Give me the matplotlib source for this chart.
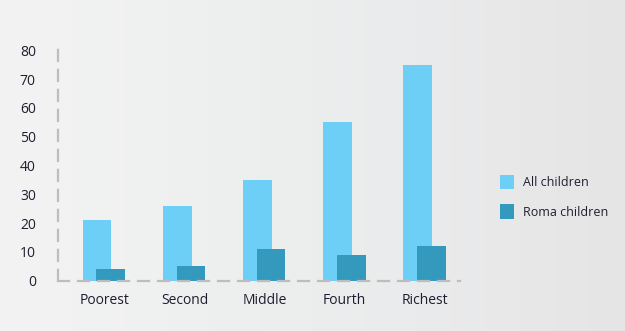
import matplotlib.pyplot as plt
import numpy as np

# Wealth quintiles and share of children (%) in each group
quintiles = ["Poorest", "Second", "Middle", "Fourth", "Richest"]
all_children = [21, 26, 35, 55, 75]
roma_children = [4, 5, 11, 9, 12]
y_ticks = [0, 10, 20, 30, 40, 50, 60, 70, 80]

CLR_ALL = "#6dcff6"
CLR_ROMA = "#3399bd"
CLR_AXIS = "#bdbdbd"
CLR_TEXT = "#1e1e30"

plt.rcParams["font.family"] = ["Open Sans", "DejaVu Sans"]

fig = plt.figure(figsize=(6.25, 3.31), dpi=100)

# soft grey gradient behind everything
bg = fig.add_axes([0, 0, 1, 1], zorder=-10)
grad = np.linspace(0, 1, 256)[None, :]
bg.imshow(grad, aspect="auto", cmap=plt.matplotlib.colors.LinearSegmentedColormap.from_list(
    "bg", ["#f3f3f3", "#eef0ef", "#eaebec", "#e6e5e5"]), extent=[0, 1, 0, 1])
bg.set_axis_off()

ax = fig.add_axes([0.0928, 0.152, 0.6432, 0.722])
ax.patch.set_alpha(0)

x = np.arange(len(quintiles))
ax.bar(x - 0.09, all_children, width=0.355, color=CLR_ALL, label="All children", zorder=2)
ax.bar(x + 0.08, roma_children, width=0.36, color=CLR_ROMA, label="Roma children", zorder=3)

ax.set_xlim(-0.58, 4.44)
ax.set_ylim(0, 83)
ax.set_yticks(y_ticks)
ax.set_xticks(x)
ax.set_xticklabels(quintiles)
ax.tick_params(axis="both", length=0, colors=CLR_TEXT, labelsize=10)
ax.tick_params(axis="y", pad=16)
ax.tick_params(axis="x", pad=9)

for side in ("top", "right"):
    ax.spines[side].set_visible(False)
for side in ("left", "bottom"):
    ax.spines[side].set_color(CLR_AXIS)
    ax.spines[side].set_linewidth(1.6)
    ax.spines[side].set_linestyle((0, (5, 4)))
ax.spines["bottom"].set_zorder(4)

fs = 9
leg = ax.legend(loc="upper left", bbox_to_anchor=(500 / 625, 1 - 175 / 331),
                bbox_transform=fig.transFigure, frameon=False,
                fontsize=fs, handlelength=1.12, handleheight=1.4,
                labelspacing=1.2, handletextpad=0.72,
                borderpad=0, borderaxespad=0)
for t in leg.get_texts():
    t.set_color(CLR_TEXT)

fig.savefig("out.png", dpi=100)
